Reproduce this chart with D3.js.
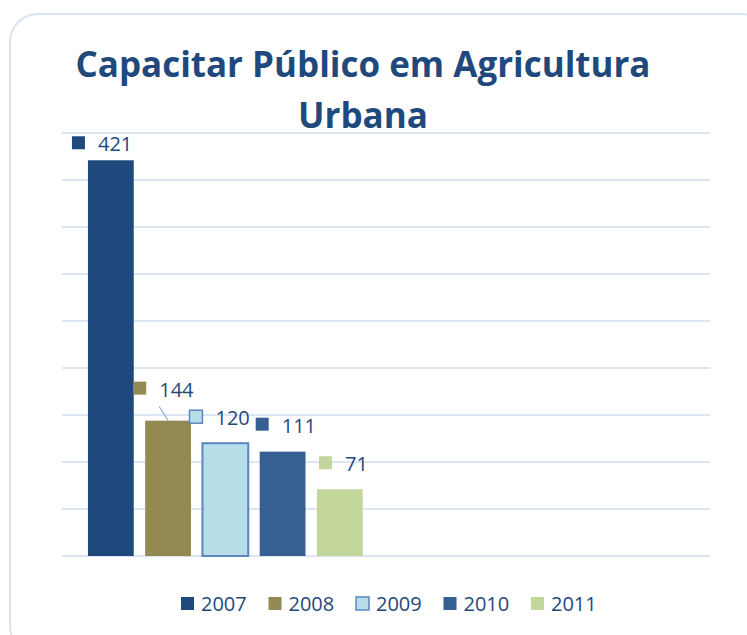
<!DOCTYPE html>
<html>
<head>
<meta charset="utf-8">
<script src="https://cdn.jsdelivr.net/npm/d3@7"></script>
<style>
  body { margin: 0; background: #fff; }
  text { font-family: "Open Sans", sans-serif; }
</style>
</head>
<body>
<div id="chart"></div>
<script>
// data
var years = ["2007", "2008", "2009", "2010", "2011"];
var values = [421, 144, 120, 111, 71];
var fills = ["#1f497d", "#938953", "#b7dde8", "#366092", "#c3d69b"];
var strokes = [null, null, "#5a86bf", null, null];
var yTicks = [0, 50, 100, 150, 200, 250, 300, 350, 400, 450];

// label placement relative to bar top-left [dx, dy] (key square position)
var labelOffset = [[-16, -24], [-12, -39], [-13, -33], [-4, -34], [2, -33]];

var width = 747, height = 635;
var svg = d3.select("#chart").append("svg")
    .attr("width", width)
    .attr("height", height);

// outer rounded frame
svg.append("rect")
    .attr("x", 10).attr("y", 14)
    .attr("width", 760).attr("height", 640)
    .attr("rx", 28)
    .attr("fill", "none")
    .attr("stroke", "#dbe5f1")
    .attr("stroke-width", 2);

// title
var title = svg.append("g").attr("fill", "#1f497d").attr("font-weight", "bold");
title.append("text")
    .attr("x", 363).attr("y", 77)
    .attr("text-anchor", "middle")
    .attr("font-size", 35)
    .attr("textLength", 575)
    .attr("lengthAdjust", "spacingAndGlyphs")
    .text("Capacitar Público em Agricultura");
title.append("text")
    .attr("x", 363).attr("y", 128)
    .attr("text-anchor", "middle")
    .attr("font-size", 35)
    .attr("textLength", 130)
    .attr("lengthAdjust", "spacingAndGlyphs")
    .text("Urbana");

// scales
var plotLeft = 62, plotRight = 710, plotTop = 133, plotBottom = 556;
var y = d3.scaleLinear().domain([0, 450]).range([plotBottom, plotTop]);
var x = d3.scaleBand().domain(years)
    .range([76.5, 374.2])
    .paddingInner(0.2).paddingOuter(0.2);

// gridlines
svg.append("g").selectAll("line")
    .data(yTicks)
    .enter().append("line")
    .attr("x1", plotLeft).attr("x2", plotRight)
    .attr("y1", function(d){ return y(d); })
    .attr("y2", function(d){ return y(d); })
    .attr("stroke", "#dce6f2")
    .attr("stroke-width", 2);

// bars
svg.append("g").selectAll("rect")
    .data(values)
    .enter().append("rect")
    .attr("x", function(d, i){ return x(years[i]); })
    .attr("y", function(d){ return y(d); })
    .attr("width", x.bandwidth())
    .attr("height", function(d){ return y(0) - y(d); })
    .attr("fill", function(d, i){ return fills[i]; })
    .attr("stroke", function(d, i){ return strokes[i] || "none"; })
    .attr("stroke-width", 2);

// leader line for 2008
svg.append("line")
    .attr("x1", x("2008") + 14).attr("y1", y(values[1]) - 14)
    .attr("x2", x("2008") + 23).attr("y2", y(values[1]))
    .attr("stroke", "#95b3d7")
    .attr("stroke-width", 1.2);

// data labels with key squares
var labels = svg.append("g").selectAll("g")
    .data(values)
    .enter().append("g")
    .attr("transform", function(d, i){
        return "translate(" + (x(years[i]) + labelOffset[i][0]) + "," + (y(d) + labelOffset[i][1]) + ")";
    });
labels.append("rect")
    .attr("width", 13).attr("height", 13)
    .attr("fill", function(d, i){ return fills[i]; })
    .attr("stroke", function(d, i){ return strokes[i] || "none"; })
    .attr("stroke-width", 1.5);
labels.append("text")
    .attr("x", 26).attr("y", 15)
    .attr("font-size", 20)
    .attr("fill", "#1f497d")
    .text(function(d){ return d; });

// legend
var legend = svg.append("g").attr("transform", "translate(181,597)");
var item = legend.selectAll("g")
    .data(years)
    .enter().append("g")
    .attr("transform", function(d, i){ return "translate(" + (i * 87.5) + ",0)"; });
item.append("rect")
    .attr("width", 13).attr("height", 13)
    .attr("fill", function(d, i){ return fills[i]; })
    .attr("stroke", function(d, i){ return strokes[i] || "none"; })
    .attr("stroke-width", 1.5);
item.append("text")
    .attr("x", 20).attr("y", 14)
    .attr("font-size", 20)
    .attr("fill", "#1f497d")
    .text(function(d){ return d; });
</script>
</body>
</html>
